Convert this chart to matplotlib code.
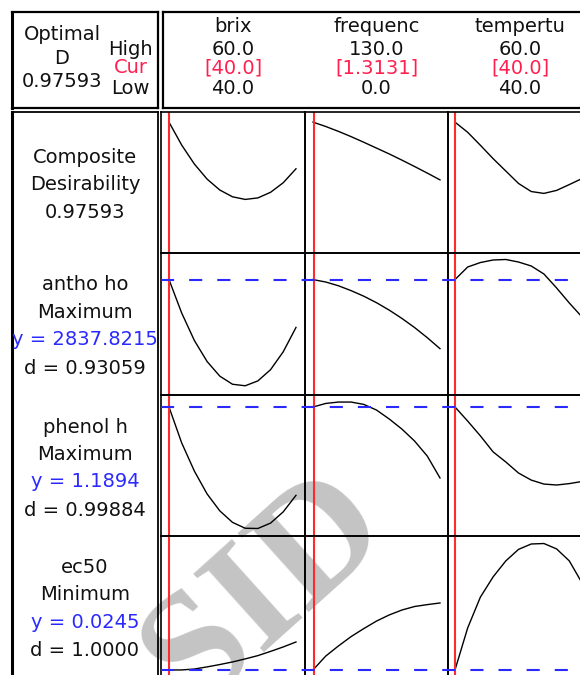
"""
Response optimizer plot (Minitab style): composite desirability and three
responses against brix, frequenc and tempertu.
"""

import matplotlib
matplotlib.use("Agg")
import matplotlib.pyplot as plt  # noqa: E402

# ---- factor grids (low -> high) and current settings ----
brix = [40, 42, 44, 46, 48, 50, 52, 54, 56, 58, 60]
freq = [0, 13, 26, 39, 52, 65, 78, 91, 104, 117, 130]
temp = [40, 42, 44, 46, 48, 50, 52, 54, 56, 58, 60]
factor_names = ["brix", "frequenc", "tempertu"]
factor_high = ["60.0", "130.0", "60.0"]
factor_cur_txt = ["[40.0]", "[1.3131]", "[40.0]"]
factor_low = ["40.0", "0.0", "40.0"]
factor_cur = [40.0, 1.3131, 40.0]

# ---- responses ----
comp_brix = [0.976, 0.854, 0.753, 0.673, 0.615, 0.579, 0.565, 0.573, 0.603, 0.654, 0.728]
comp_freq = [0.976, 0.953, 0.927, 0.899, 0.869, 0.838, 0.807, 0.774, 0.740, 0.705, 0.669]
comp_temp = [0.976, 0.922, 0.853, 0.782, 0.716, 0.650, 0.607, 0.597, 0.613, 0.644, 0.676]

antho_brix = [2838, 2508, 2237, 2030, 1886, 1806, 1791, 1839, 1950, 2127, 2366]
antho_freq = [2838, 2814, 2777, 2729, 2674, 2610, 2537, 2455, 2365, 2265, 2157]
antho_temp = [2838, 2962, 3006, 3031, 3036, 3011, 2972, 2893, 2755, 2607, 2469]

phenol_brix = [1.189, 1.036, 0.916, 0.819, 0.747, 0.698, 0.673, 0.672, 0.695, 0.743, 0.813]
phenol_freq = [1.189, 1.204, 1.210, 1.210, 1.200, 1.176, 1.138, 1.095, 1.044, 0.980, 0.887]
phenol_temp = [1.189, 1.129, 1.066, 0.998, 0.955, 0.908, 0.878, 0.861, 0.857, 0.863, 0.872]

ec50_brix = [0.0245, 0.0245, 0.0249, 0.0258, 0.0268, 0.0279, 0.0292, 0.0306, 0.0324, 0.0343, 0.0364]
ec50_freq = [0.0245, 0.0304, 0.0347, 0.0387, 0.0421, 0.0453, 0.0479, 0.0500, 0.0515, 0.0523, 0.0530]
ec50_temp = [0.0245, 0.0424, 0.0555, 0.0641, 0.0709, 0.0758, 0.0781, 0.0783, 0.0760, 0.0709, 0.0615]

resp_cur = [0.97593, 2837.8215, 1.1894, 0.0245]
resp_labels = [
    ["Composite", "Desirability", "0.97593"],
    ["antho ho", "Maximum", "y = 2837.8215", "d = 0.93059"],
    ["phenol h", "Maximum", "y = 1.1894", "d = 0.99884"],
    ["ec50", "Minimum", "y = 0.0245", "d = 1.0000"],
]
optimal_d = "0.97593"

curves = [
    [comp_brix, comp_freq, comp_temp],
    [antho_brix, antho_freq, antho_temp],
    [phenol_brix, phenol_freq, phenol_temp],
    [ec50_brix, ec50_freq, ec50_temp],
]
xs = [brix, freq, temp]

# ---- layout (pixels) ----
W, H = 580, 675
col_edges = [161, 305, 448, 592]
row_edges = [112, 253, 395, 536, 677]
xlims = [(38.74, 61.42), (-8.2, 138.2), (38.90, 61.57)]
ylims = [(0.28, 1.03), (1700, 3100), (0.64, 1.24), (0.0215, 0.0815)]

TXT = "#111111"
RED = "#ff2a2a"
PINK = "#ff2050"
BLUE = "#2a2aff"
FS = 14


def rect(x0, y0, x1, y1):
    return [x0 / W, 1 - y1 / H, (x1 - x0) / W, (y1 - y0) / H]


def put(x, y, s, color=TXT, ha="center"):
    fig.text(x / W, 1 - y / H, s, ha=ha, va="baseline", fontsize=FS, color=color)


def box(ax, lw=1.2, left_lw=None):
    ax.set_xticks([])
    ax.set_yticks([])
    ax.set_facecolor("none")
    for side, sp in ax.spines.items():
        sp.set_color("black")
        sp.set_linewidth(lw)
    if left_lw:
        ax.spines["left"].set_linewidth(left_lw)


fig = plt.figure(figsize=(W / 100, H / 100), dpi=100)

# watermark, behind everything
fig.text(292 / W, 1 - 620 / H, "SID", rotation=42, rotation_mode="anchor",
         ha="center", va="baseline", fontsize=116, family="Liberation Serif",
         weight="bold", color="#c4c4c4", zorder=-1)

# header boxes
box(fig.add_axes(rect(12, 12, 158, 108)), lw=1.6, left_lw=2.2)
box(fig.add_axes(rect(163, 12, 600, 108)), lw=1.6)
box(fig.add_axes(rect(12, 112, 158, 700)), lw=1.3, left_lw=2.2)

put(62, 40, "Optimal")
put(62, 64, "D")
put(62, 87, optimal_d)
put(130, 55, "High")
put(131, 73, "Cur", color=PINK)
put(130, 94, "Low")

for c in range(3):
    cx = (col_edges[c] + col_edges[c + 1]) / 2
    put(cx, 32, factor_names[c])
    put(cx, 55, factor_high[c])
    put(cx, 74, factor_cur_txt[c], color=PINK)
    put(cx, 94, factor_low[c])

# left labels
label_base = [[163, 190, 218], [290, 318, 345, 374], [433, 460, 487, 516], [573, 600, 628, 656]]
for r, lines in enumerate(resp_labels):
    for i, s in enumerate(lines):
        col = BLUE if s.startswith("y =") else TXT
        put(85, label_base[r][i], s, color=col)

# cells
for r in range(4):
    for c in range(3):
        ax = fig.add_axes(rect(col_edges[c], row_edges[r], col_edges[c + 1], row_edges[r + 1]))
        box(ax, lw=1.2)
        ax.set_xlim(*xlims[c])
        ax.set_ylim(*ylims[r])
        ax.plot(xs[c], curves[r][c], color="black", lw=1.0)
        ax.axvline(factor_cur[c], color=RED, lw=1.5)
    if r > 0:
        ov = fig.add_axes(rect(161, row_edges[r], 600, row_edges[r + 1]))
        ov.axis("off")
        ov.set_ylim(*ylims[r])
        ov.axhline(resp_cur[r], color=BLUE, lw=1.5, ls=(0, (6.3, 7.2)))

fig.savefig("out.png", dpi=100)
plt.close(fig)
